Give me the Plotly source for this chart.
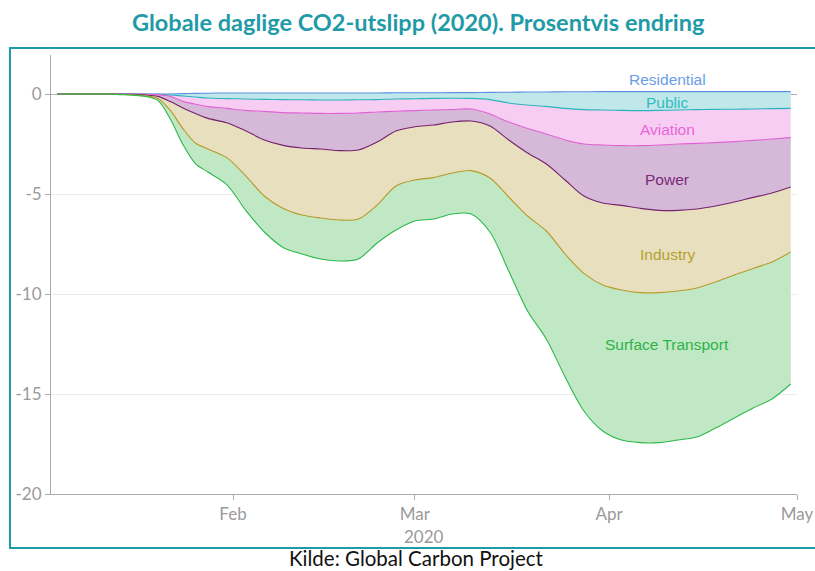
import plotly.graph_objects as go

dates = ["2020-01-04", "2020-01-08", "2020-01-12", "2020-01-14", "2020-01-16", "2020-01-18",
         "2020-01-20", "2020-01-22", "2020-01-24", "2020-01-26", "2020-01-28", "2020-01-31",
         "2020-02-03", "2020-02-06", "2020-02-09", "2020-02-12", "2020-02-15", "2020-02-18",
         "2020-02-21", "2020-02-24", "2020-02-27", "2020-03-01", "2020-03-04", "2020-03-07",
         "2020-03-10", "2020-03-13", "2020-03-16", "2020-03-19", "2020-03-22", "2020-03-25",
         "2020-03-28", "2020-03-31", "2020-04-03", "2020-04-06", "2020-04-09", "2020-04-12",
         "2020-04-15", "2020-04-18", "2020-04-21", "2020-04-24", "2020-04-27", "2020-04-30"]

residential = [0, 0, 0, 0, 0, 0, 0, 0, 0.02, 0.03, 0.04, 0.05,
               0.05, 0.05, 0.05, 0.05, 0.05, 0.05, 0.05, 0.05, 0.06, 0.06, 0.06, 0.07,
               0.07, 0.08, 0.09, 0.10, 0.10, 0.11, 0.11, 0.12, 0.12, 0.12, 0.12, 0.12,
               0.12, 0.12, 0.12, 0.12, 0.12, 0.12]
public = [0, 0, 0, 0, 0, -0.01, -0.02, -0.05, -0.12, -0.18, -0.24, -0.28,
          -0.30, -0.32, -0.33, -0.34, -0.35, -0.35, -0.34, -0.33, -0.31, -0.30, -0.28, -0.28,
          -0.29, -0.36, -0.54, -0.65, -0.72, -0.83, -0.89, -0.92, -0.94, -0.95, -0.94, -0.92,
          -0.90, -0.89, -0.88, -0.87, -0.85, -0.84]
aviation = [0, 0, 0, 0, 0, 0, -0.01, -0.07, -0.27, -0.36, -0.43, -0.49,
            -0.57, -0.60, -0.65, -0.66, -0.67, -0.67, -0.66, -0.62, -0.61, -0.59, -0.58, -0.57,
            -0.53, -0.72, -0.95, -1.17, -1.38, -1.58, -1.72, -1.75, -1.76, -1.75, -1.73, -1.70,
            -1.69, -1.66, -1.62, -1.57, -1.52, -1.46]
power = [0, 0, 0, -0.01, -0.02, -0.04, -0.09, -0.26, -0.33, -0.47, -0.59, -0.72,
         -1.02, -1.43, -1.64, -1.75, -1.78, -1.86, -1.85, -1.50, -0.99, -0.81, -0.75, -0.62,
         -0.60, -0.60, -0.90, -1.23, -1.50, -2.00, -2.60, -2.90, -2.99, -3.14, -3.27, -3.32,
         -3.28, -3.17, -3.02, -2.85, -2.70, -2.47]
industry = [0, 0, 0, -0.01, -0.02, -0.04, -0.10, -0.44, -1.03, -1.47, -1.53, -1.74,
            -2.24, -2.80, -3.15, -3.35, -3.45, -3.47, -3.45, -3.15, -2.75, -2.66, -2.63, -2.55,
            -2.48, -2.60, -2.85, -3.15, -3.35, -3.70, -3.87, -4.10, -4.23, -4.21, -4.11, -4.03,
            -3.95, -3.80, -3.65, -3.55, -3.45, -3.25]
surface_transport = [0, 0, 0, -0.01, -0.02, -0.03, -0.10, -0.43, -0.79, -1.03, -1.15, -1.35,
                     -1.72, -1.80, -1.95, -1.95, -2.05, -2.05, -2.00, -1.90, -2.20, -2.05, -2.07, -2.05,
                     -2.17, -2.70, -3.70, -4.75, -5.40, -6.15, -6.88, -7.30, -7.50, -7.50, -7.50, -7.45,
                     -7.45, -7.30, -7.15, -6.98, -6.85, -6.60]

sector_names = ["Residential", "Public", "Aviation", "Power", "Industry", "Surface Transport"]
sector_values = [residential, public, aviation, power, industry, surface_transport]
line_colors = ["#5b8fe0", "#2bb3bd", "#e063d5", "#74216f", "#b69a2a", "#2db84a"]
fill_colors = ["#c7d9f5", "#c0e8ea", "#f8cdf3", "#d6b9d8", "#e8dfbe", "#c0e8c5"]
label_colors = ["#6a9ee8", "#2fbcc2", "#e866d8", "#7b2a7b", "#b79f2e", "#2db34a"]
label_date = "2020-04-10 08:00"
label_y = [0.71, -0.43, -1.78, -4.26, -8.04, -12.52]

y_tickvals = [0, -5, -10, -15, -20]
y_ticktext = ["0", "-5", "-10", "-15", "-20"]

title_text = "Globale daglige CO2-utslipp (2020). Prosentvis endring"
source_text = "Kilde: Global Carbon Project"
x_title = "2020"

fig = go.Figure()
for name, vals, lc, fc in zip(sector_names, sector_values, line_colors, fill_colors):
    fig.add_trace(go.Scatter(
        x=dates, y=vals, name=name, mode="lines", stackgroup="one",
        line=dict(color=lc, width=1.1, shape="spline", smoothing=0.9),
        fillcolor=fc, hoverinfo="x+y+name",
    ))

teal = "#1f9aa7"
grey = "#9a9a9a"

annotations = []
for name, yv, col in zip(sector_names, label_y, label_colors):
    annotations.append(dict(x=label_date, y=yv, xref="x", yref="y", text=name,
                            showarrow=False, font=dict(family="Liberation Sans", size=15.5, color=col)))
annotations.append(dict(x=0.492, y=1.075, xref="paper", yref="paper", text="<b>" + title_text + "</b>",
                        showarrow=False, yanchor="middle",
                        font=dict(family="Lato", size=23.5, color=teal)))
annotations.append(dict(x=0.4906, y=-0.146, xref="paper", yref="paper", text=source_text,
                        showarrow=False, yanchor="middle",
                        font=dict(family="Lato", size=20.5, color="#111111")))
annotations.append(dict(x=0.5, y=-0.0957, xref="paper", yref="paper", text=x_title,
                        showarrow=False, yanchor="middle",
                        font=dict(family="Lato", size=17, color=grey)))

fig.update_layout(
    width=815, height=571,
    margin=dict(l=51, r=18, t=55, b=77),
    paper_bgcolor="white", plot_bgcolor="white",
    showlegend=False,
    annotations=annotations,
    shapes=[dict(type="rect", xref="paper", yref="paper",
                 x0=-0.055, x1=1.03, y0=-0.123, y1=1.016,
                 line=dict(color=teal, width=2), fillcolor="rgba(0,0,0,0)", layer="below")],
    xaxis=dict(
        type="date", range=["2020-01-02 23:00", "2020-05-01"],
        tickformat="%b", dtick="M1", tick0="2020-02-01",
        showgrid=False, zeroline=False, automargin=False,
        showline=True, linecolor="#aaaaaa", linewidth=1,
        ticks="outside", ticklen=5, tickcolor="#aaaaaa",
        tickfont=dict(family="Lato", size=17, color=grey),
    ),
    yaxis=dict(
        range=[-20, 1.95], tickvals=y_tickvals, ticktext=y_ticktext, automargin=False,
        showgrid=True, gridcolor="#ebebeb", gridwidth=1,
        zeroline=True, zerolinecolor="#b0b0b0", zerolinewidth=1,
        showline=True, linecolor="#aaaaaa", linewidth=1,
        ticks="outside", ticklen=5, tickcolor="#aaaaaa",
        tickfont=dict(family="Lato", size=17, color=grey),
    ),
)

fig.write_html("out.html", config={"displayModeBar": False},
               post_script="document.body.style.margin='0px';document.body.style.overflow='hidden';")
